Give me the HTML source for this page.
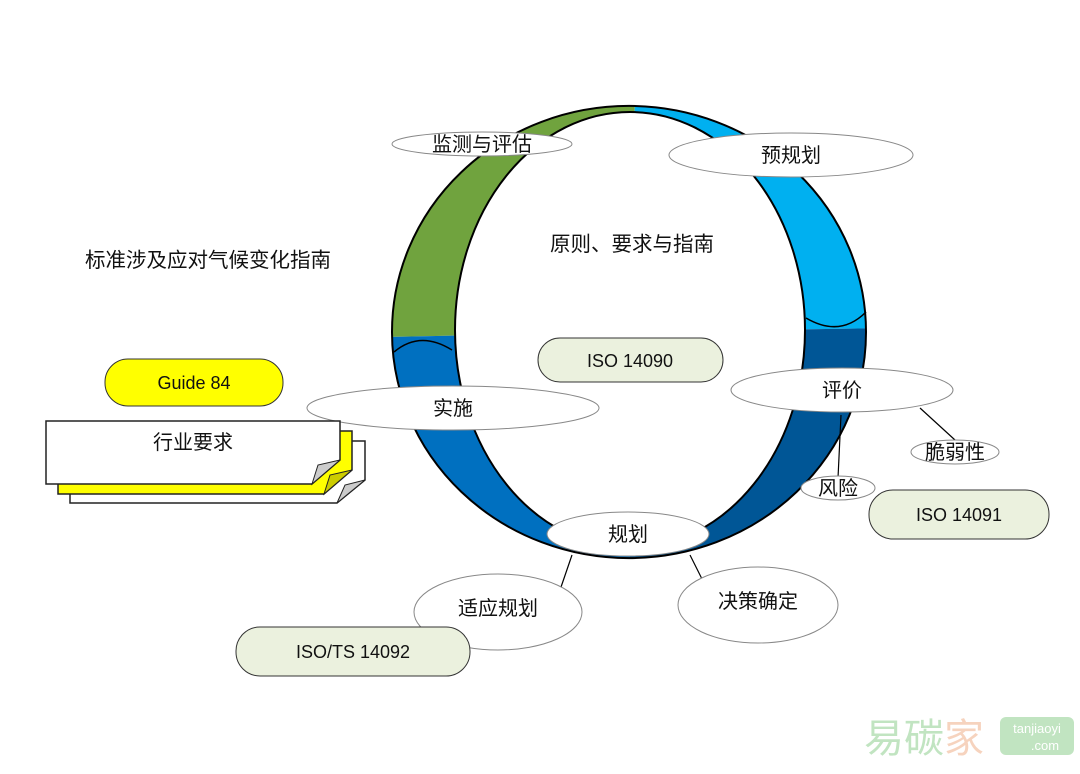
<!DOCTYPE html>
<html><head><meta charset="utf-8"><style>
body{margin:0;background:#fff}
svg text{font-family:"Liberation Sans","Noto Sans CJK SC",sans-serif;fill:#111}
</style></head><body>
<svg width="1080" height="769" viewBox="0 0 1080 769" xmlns="http://www.w3.org/2000/svg">
<defs>
<path id="ring" fill-rule="evenodd" d="M392,332 a237,226 0 1,0 474,0 a237,226 0 1,0 -474,0 Z M455,330 a175,218 0 1,0 350,0 a175,218 0 1,0 -350,0 Z"/>
<clipPath id="cg"><polygon points="630,332 637,0 0,0 0,345"/></clipPath>
<clipPath id="cl"><polygon points="630,332 637,0 1080,0 1080,325"/></clipPath>
<clipPath id="cd"><polygon points="630,332 1080,325 1080,769 630,769"/></clipPath>
<clipPath id="cm"><polygon points="630,332 630,769 0,769 0,345"/></clipPath>
</defs>
<text x="85" y="267" font-size="20.5">标准涉及应对气候变化指南</text>
<use href="#ring" fill="#70a33e" clip-path="url(#cg)"/>
<use href="#ring" fill="#00b0f0" clip-path="url(#cl)"/>
<use href="#ring" fill="#005696" clip-path="url(#cd)"/>
<use href="#ring" fill="#0070c0" clip-path="url(#cm)"/>
<path d="M866,312 Q840,338 806,318" fill="none" stroke="#000" stroke-width="1.5"/>
<path d="M394,352 Q420,330 452,350" fill="none" stroke="#000" stroke-width="1.5"/>
<use href="#ring" fill="none" stroke="#000" stroke-width="2"/>
<text x="632" y="251" font-size="20.5" text-anchor="middle">原则、要求与指南</text>
<g fill="#fff" stroke="#888" stroke-width="1">
<ellipse cx="482" cy="144" rx="90" ry="12"/>
<ellipse cx="791" cy="155" rx="122" ry="22"/>
<ellipse cx="453" cy="408" rx="146" ry="22"/>
<ellipse cx="842" cy="390" rx="111" ry="22"/>
<ellipse cx="628" cy="534" rx="81" ry="22"/>
</g>
<g stroke="#000" stroke-width="1.2">
<line x1="920" y1="408" x2="955" y2="440"/>
<line x1="841" y1="415" x2="838" y2="478"/>
<line x1="572" y1="555" x2="560" y2="590"/>
<line x1="690" y1="555" x2="705" y2="585"/>
</g>
<g fill="#fff" stroke="#888" stroke-width="1">
<ellipse cx="838" cy="488" rx="37" ry="12"/>
<ellipse cx="955" cy="452" rx="44" ry="12"/>
<ellipse cx="498" cy="612" rx="84" ry="38"/>
<ellipse cx="758" cy="605" rx="80" ry="38"/>
</g>
<g font-size="20" text-anchor="middle">
<text x="482" y="151">监测与评估</text>
<text x="791" y="162">预规划</text>
<text x="453" y="415">实施</text>
<text x="842" y="397">评价</text>
<text x="628" y="541">规划</text>
<text x="838" y="495">风险</text>
<text x="955" y="459">脆弱性</text>
<text x="498" y="615">适应规划</text>
<text x="758" y="608">决策确定</text>
</g>
<g fill="#ebf1de" stroke="#333" stroke-width="1">
<rect x="538" y="338" width="185" height="44" rx="22"/>
<rect x="869" y="490" width="180" height="49" rx="24"/>
<rect x="236" y="627" width="234" height="49" rx="24"/>
</g>
<g font-size="18" text-anchor="middle">
<text x="630" y="367">ISO 14090</text>
<text x="959" y="521">ISO 14091</text>
<text x="353" y="658">ISO/TS  14092</text>
</g>
<rect x="105" y="359" width="178" height="47" rx="23" fill="#ffff00" stroke="#333"/>
<text x="194" y="389" font-size="18" text-anchor="middle">Guide 84</text>
<polygon points="70,441 365,441 365,480 337,503 70,503" fill="#fff" stroke="#222" stroke-width="1.5"/>
<polygon points="337,503 345,485 365,480" fill="#ccc" stroke="#222"/>
<polygon points="58,431 352,431 352,470 324,494 58,494" fill="#ffff00" stroke="#222" stroke-width="1.5"/>
<polygon points="324,494 330,475 352,470" fill="#cccc00" stroke="#222"/>
<polygon points="46,421 340,421 340,460 312,484 46,484" fill="#fff" stroke="#222" stroke-width="1.5"/>
<polygon points="312,484 318,465 340,460" fill="#ccc" stroke="#222"/>
<text x="193" y="449" font-size="20" text-anchor="middle">行业要求</text>
<g opacity="0.55">
<text x="864" y="752" font-size="40" style="fill:#8fcf8f">易碳</text>
<text x="944" y="752" font-size="40" style="fill:#f0b08a">家</text>
<rect x="1000" y="717" width="74" height="38" rx="6" fill="#8fcf8f"/>
<text x="1037" y="733" font-size="13" text-anchor="middle" style="fill:#fff">tanjiaoyi</text>
<text x="1045" y="750" font-size="13" text-anchor="middle" style="fill:#fff">.com</text>
</g>
</svg>
</body></html>
